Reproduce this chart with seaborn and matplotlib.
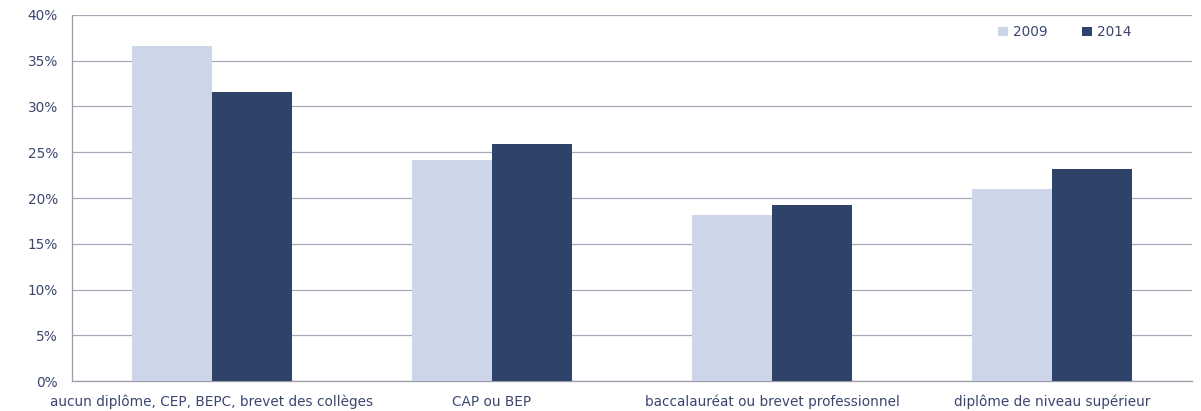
import matplotlib
matplotlib.use("Agg")
import matplotlib.pyplot as plt
import seaborn as sns
import pandas as pd
from matplotlib.ticker import FuncFormatter, MultipleLocator

categories = ["aucun diplôme, CEP, BEPC, brevet des collèges", "CAP ou BEP",
              "baccalauréat ou brevet professionnel", "diplôme de niveau supérieur"]
years = ["2009", "2014"]
values_2009 = [36.6, 24.2, 18.1, 21.0]
values_2014 = [31.6, 25.9, 19.2, 23.2]

df = pd.DataFrame({
    "cat": categories * 2,
    "year": [years[0]] * 4 + [years[1]] * 4,
    "val": values_2009 + values_2014,
})

sns.set_theme(style="white")
plt.rcParams['font.family'] = ['DejaVu Sans']
txt = "#3b4670"

fig = plt.figure(figsize=(12.01, 4.11), dpi=100)
ax = fig.add_axes([72/1201, 30/411, 1120/1201, 366/411])
sns.barplot(data=df, x="cat", y="val", hue="year", order=categories, hue_order=years,
            palette=["#cdd5e8", "#2f4269"], width=0.572, saturation=1, ax=ax,
            linewidth=0, edgecolor="none", zorder=3)
ax.set_ylim(0, 40)
ax.set_xlim(-0.5, 3.5)
ax.yaxis.set_major_locator(MultipleLocator(5))
ax.yaxis.set_major_formatter(FuncFormatter(lambda v, p: f"{v:.0f}%"))
ax.grid(axis="y", color="#a8a8b8", linewidth=0.9, zorder=0)
ax.set_axisbelow(True)
for s in ["top", "right"]:
    ax.spines[s].set_visible(False)
for s in ["left", "bottom"]:
    ax.spines[s].set_color("#9a9aaa")
    ax.spines[s].set_linewidth(0.9)
ax.set_xlabel("")
ax.set_ylabel("")
ax.tick_params(axis="both", length=0, colors=txt, labelsize=9.8, pad=10)
ax.tick_params(axis="x", pad=10)
leg = ax.legend(loc="upper right", bbox_to_anchor=(0.957, 1.005), ncol=2, frameon=False,
                fontsize=9.8, handlelength=0.7, handleheight=0.7, columnspacing=2.5,
                handletextpad=0.4)
for t in leg.get_texts():
    t.set_color(txt)
fig.savefig("out.png", dpi=100)
